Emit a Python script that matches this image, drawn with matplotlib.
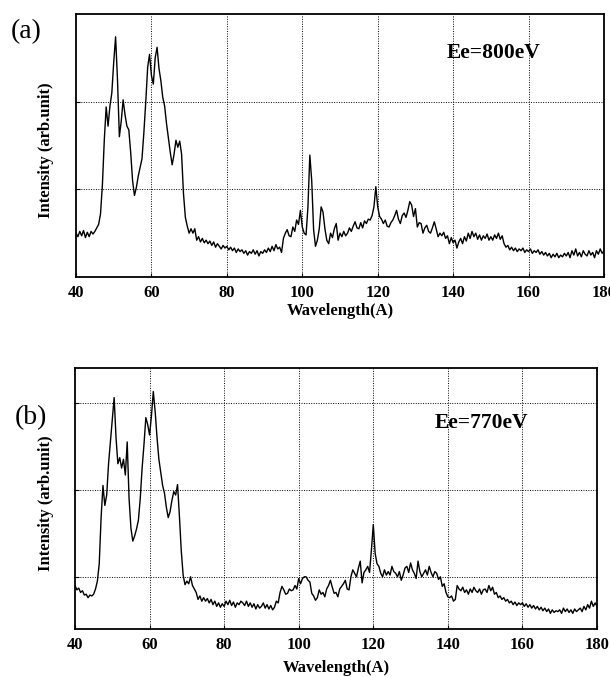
import numpy as np
import matplotlib
matplotlib.use("Agg")
import matplotlib.pyplot as plt

# wavelength grid (A), 0.5 A step, 40..180
wl_start, wl_stop, wl_step = 40.0, 180.0, 0.5

intensity_a = [
    0.50, 0.46, 0.52, 0.47, 0.53, 0.45, 0.51, 0.46, 0.52, 0.49,
    0.52, 0.56, 0.60, 0.72, 1.05, 1.56, 1.94, 1.72, 1.95, 2.10,
    2.45, 2.74, 2.25, 1.60, 1.78, 2.02, 1.85, 1.72, 1.68, 1.42,
    1.10, 0.93, 1.02, 1.15, 1.25, 1.35, 1.65, 2.00, 2.39, 2.54,
    2.30, 2.20, 2.50, 2.62, 2.38, 2.24, 2.05, 1.95, 1.75, 1.58,
    1.42, 1.28, 1.40, 1.56, 1.48, 1.55, 1.40, 0.95, 0.68, 0.58,
    0.50, 0.55, 0.50, 0.55, 0.42, 0.46, 0.40, 0.44, 0.39, 0.42,
    0.38, 0.41, 0.36, 0.40, 0.34, 0.38, 0.35, 0.32, 0.36, 0.33,
    0.35, 0.31, 0.34, 0.30, 0.33, 0.28, 0.32, 0.29, 0.31, 0.27,
    0.30, 0.25, 0.29, 0.27, 0.31, 0.26, 0.30, 0.24, 0.29, 0.27,
    0.31, 0.28, 0.33, 0.29, 0.35, 0.30, 0.37, 0.32, 0.34, 0.28,
    0.44, 0.50, 0.54, 0.47, 0.46, 0.57, 0.52, 0.65, 0.60, 0.76,
    0.57, 0.50, 0.48, 0.80, 1.39, 1.10, 0.54, 0.35, 0.42, 0.55,
    0.80, 0.74, 0.55, 0.42, 0.38, 0.50, 0.45, 0.55, 0.61, 0.42,
    0.50, 0.46, 0.52, 0.47, 0.50, 0.56, 0.52, 0.58, 0.63, 0.56,
    0.55, 0.62, 0.56, 0.64, 0.61, 0.66, 0.65, 0.70, 0.80, 1.03,
    0.80, 0.69, 0.66, 0.61, 0.65, 0.58, 0.57, 0.62, 0.65, 0.70,
    0.76, 0.66, 0.61, 0.70, 0.73, 0.68, 0.76, 0.86, 0.82, 0.69,
    0.78, 0.57, 0.62, 0.61, 0.50, 0.56, 0.59, 0.52, 0.50, 0.56,
    0.63, 0.55, 0.46, 0.50, 0.47, 0.51, 0.44, 0.47, 0.38, 0.45,
    0.39, 0.42, 0.33, 0.40, 0.44, 0.38, 0.46, 0.41, 0.50, 0.44,
    0.52, 0.46, 0.50, 0.43, 0.48, 0.42, 0.47, 0.44, 0.49, 0.42,
    0.46, 0.42, 0.48, 0.44, 0.50, 0.43, 0.47, 0.38, 0.34, 0.36,
    0.31, 0.34, 0.30, 0.33, 0.29, 0.32, 0.30, 0.33, 0.28, 0.31,
    0.29, 0.32, 0.27, 0.30, 0.28, 0.31, 0.26, 0.29, 0.25, 0.28,
    0.24, 0.27, 0.22, 0.26, 0.23, 0.27, 0.22, 0.25, 0.23, 0.27,
    0.24, 0.28, 0.22, 0.30, 0.25, 0.32, 0.24, 0.28, 0.23, 0.30,
    0.26, 0.24, 0.30, 0.25, 0.28, 0.22, 0.30, 0.26, 0.32, 0.27,
    0.30,
]

intensity_b = [
    0.90, 0.85, 0.87, 0.82, 0.84, 0.79, 0.80, 0.76, 0.79, 0.78,
    0.80, 0.86, 0.95, 1.15, 1.68, 2.05, 1.82, 1.94, 2.30, 2.55,
    2.80, 3.06, 2.60, 2.30, 2.37, 2.25, 2.35, 2.17, 2.55, 1.90,
    1.56, 1.41, 1.47, 1.55, 1.65, 1.90, 2.25, 2.52, 2.83, 2.75,
    2.63, 2.85, 3.13, 2.90, 2.60, 2.35, 2.20, 2.05, 1.96, 1.80,
    1.68, 1.75, 1.88, 1.98, 1.94, 2.06, 1.70, 1.30, 1.02, 0.91,
    0.95, 0.92, 1.00, 0.90, 0.86, 0.82, 0.74, 0.78, 0.72, 0.76,
    0.72, 0.75, 0.70, 0.74, 0.68, 0.72, 0.66, 0.70, 0.65, 0.69,
    0.66, 0.72, 0.68, 0.73, 0.67, 0.71, 0.65, 0.70, 0.68, 0.72,
    0.70, 0.67, 0.72, 0.66, 0.70, 0.65, 0.69, 0.63, 0.68, 0.64,
    0.66, 0.70, 0.64, 0.68, 0.63, 0.67, 0.62, 0.65, 0.72, 0.70,
    0.82, 0.89, 0.85, 0.80, 0.81, 0.86, 0.84, 0.85, 0.90, 0.86,
    0.98, 0.92, 0.98, 1.00, 1.00, 0.96, 0.94, 0.81, 0.78, 0.73,
    0.76, 0.85, 0.80, 0.82, 0.77, 0.86, 0.90, 0.96, 0.88, 0.81,
    0.82, 0.77, 0.86, 0.89, 0.92, 0.96, 0.86, 0.85, 1.00, 1.08,
    1.04, 1.00, 1.10, 1.18, 0.93, 1.05, 1.08, 1.12, 1.05, 1.31,
    1.60, 1.27, 1.15, 1.12, 1.04, 1.00, 1.08, 1.02, 1.06, 1.02,
    1.12, 1.06, 1.04, 1.00, 1.06, 0.96, 1.02, 1.10, 1.12, 1.05,
    1.16, 1.08, 1.04, 0.98, 1.18, 1.06, 1.00, 1.04, 1.08, 1.02,
    1.12, 1.05, 1.00, 1.06, 1.04, 0.97, 1.00, 0.89, 0.92, 0.82,
    0.77, 0.76, 0.78, 0.72, 0.74, 0.90, 0.86, 0.84, 0.88, 0.82,
    0.85, 0.80, 0.86, 0.82, 0.88, 0.84, 0.82, 0.86, 0.80, 0.85,
    0.86, 0.82, 0.90, 0.84, 0.88, 0.80, 0.82, 0.76, 0.78, 0.74,
    0.76, 0.72, 0.74, 0.70, 0.72, 0.68, 0.71, 0.67, 0.70, 0.68,
    0.70, 0.66, 0.69, 0.65, 0.68, 0.64, 0.67, 0.63, 0.66, 0.62,
    0.65, 0.61, 0.64, 0.60, 0.63, 0.58, 0.62, 0.59, 0.61, 0.60,
    0.62, 0.58, 0.64, 0.60, 0.63, 0.59, 0.62, 0.58, 0.63, 0.60,
    0.62, 0.64, 0.60, 0.66, 0.62, 0.68, 0.64, 0.72, 0.66, 0.70,
    0.66,
]

x_ticks = [40, 60, 80, 100, 120, 140, 160, 180]
x_tick_labels = ["40", "60", "80", "100", "120", "140", "160", "180"]
panel_labels = ["(a)", "(b)"]
energy_labels = ["Ee=800eV", "Ee=770eV"]
x_label = "Wavelength(A)"
y_label = "Intensity (arb.unit)"

wl = np.arange(wl_start, wl_stop + wl_step / 2, wl_step)

plt.rcParams['font.family'] = ['Liberation Serif', 'DejaVu Serif']

W, H = 610, 677
fig = plt.figure(figsize=(W / 100, H / 100), dpi=100)

def fx(px):
    return px / W

def fy(py):
    return 1 - py / H

panels = [
    dict(box=(76, 14, 604, 277), ylim=(0, 3), yg=[1, 2], data=intensity_a,
         lab=(26, 32), en=(494, 53), ylab=(46, 150), xlab=(340, 311)),
    dict(box=(75, 368, 597, 629), ylim=(0.4, 3.4), yg=[1, 2, 3], data=intensity_b,
         lab=(31, 418), en=(481, 423), ylab=(46, 503), xlab=(336, 668)),
]

for i, p in enumerate(panels):
    l, t, r, b = p['box']
    ax = fig.add_axes([fx(l), fy(b), fx(r) - fx(l), fy(t) - fy(b)])
    ax.plot(wl, p['data'], color='black', lw=1.0)
    ax.set_xlim(40, 180)
    ax.set_ylim(*p['ylim'])
    ax.set_xticks(x_ticks)
    ax.set_xticklabels(x_tick_labels, fontsize=12, fontweight='bold')
    ax.set_yticks(p['yg'])
    ax.set_yticklabels([])
    ax.tick_params(axis='both', direction='in', length=3, width=0.8, pad=6)
    for g in x_ticks[1:-1]:
        ax.axvline(g, color='black', lw=0.7, ls=(0, (1, 1.5)), zorder=0)
    for g in p['yg']:
        ax.axhline(g, color='black', lw=0.7, ls=(0, (1, 1.5)), zorder=0)
    for s in ax.spines.values():
        s.set_linewidth(1.3)
    fig.text(fx(p['lab'][0]), fy(p['lab'][1]), panel_labels[i], fontsize=20,
             ha='center', va='center')
    fig.text(fx(p['en'][0]), fy(p['en'][1]), energy_labels[i], fontsize=15.5,
             fontweight='bold', ha='center', va='center')
    fig.text(fx(p['ylab'][0]), fy(p['ylab'][1]), y_label, fontsize=12,
             fontweight='bold', rotation=90, ha='center', va='center')
    fig.text(fx(p['xlab'][0]), fy(p['xlab'][1]), x_label, fontsize=12,
             fontweight='bold', ha='center', va='center')

fig.savefig("out.png", dpi=100)
